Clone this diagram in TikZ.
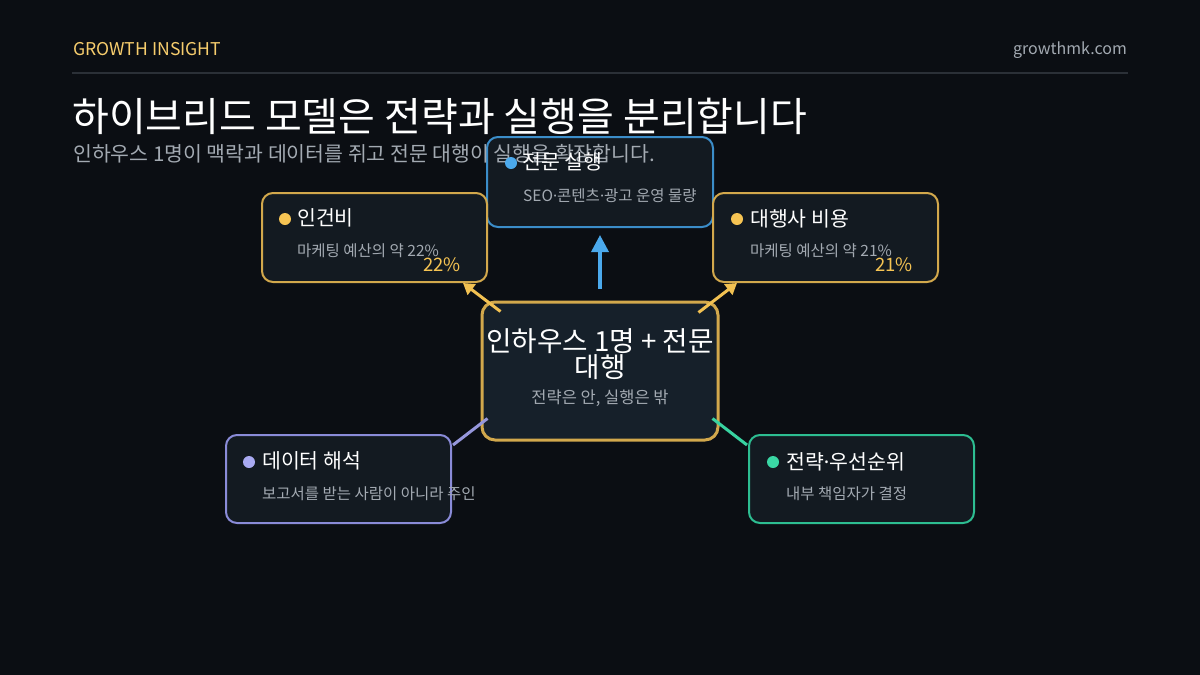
\documentclass[tikz,border=0pt]{standalone}
\usepackage{fontspec}
\setmainfont{Noto Sans CJK KR}
\newfontfamily\dotfont{Noto Sans}
\newcommand{\mdot}{{\dotfont ·}}
\usetikzlibrary{arrows.meta}
\definecolor{bg}{HTML}{0B0E13}
\definecolor{boxfill}{HTML}{131A21}
\definecolor{hubfill}{HTML}{16202A}
\definecolor{gold}{HTML}{D2A84C}
\definecolor{golddot}{HTML}{F6C453}
\definecolor{bluec}{HTML}{3B8DC9}
\definecolor{bluedot}{HTML}{4BA9EC}
\definecolor{purp}{HTML}{8A8BD8}
\definecolor{purpdot}{HTML}{A9AAF2}
\definecolor{grn}{HTML}{2DBD91}
\definecolor{grndot}{HTML}{3AD7A4}
\definecolor{subgray}{HTML}{A3AAB2}
\definecolor{rulegray}{HTML}{2B3037}
\tikzset{
  card/.style={draw=#1, line width=2pt, fill=boxfill, rounded corners=11pt, inner sep=0pt},
  cardtitle/.style={anchor=west, inner sep=0pt, text=white, font=\fontsize{20.5}{24}\selectfont},
  cardsub/.style={anchor=west, inner sep=0pt, text=subgray, font=\fontsize{15.5}{18}\selectfont},
  pct/.style={anchor=east, inner sep=0pt, text=golddot, font=\fontsize{18.5}{22}\selectfont},
  conn/.style={draw=#1, line width=3pt, -{Triangle[length=11pt,width=13pt]}},
}
\begin{document}
\begin{tikzpicture}[x=1pt,y=-1pt]
\fill[bg] (0,0) rectangle (1200,675);
\useasboundingbox (0,0) rectangle (1200,675);
% header
\node[anchor=west, inner sep=0pt, text=golddot!85!white, font=\fontsize{17.6}{20}\selectfont] (brand) at (73,49.5) {GROWTH INSIGHT};
\node[anchor=east, inner sep=0pt, text=subgray, font=\fontsize{16}{19}\selectfont] (site) at (1127,50) {growthmk.com};
\draw[rulegray, line width=2pt] (72,73) -- (1128,73);
\node[anchor=west, inner sep=0pt, text=white, font=\fontsize{40}{46}\selectfont] (title) at (72,116) {하이브리드 모델은 전략과 실행을 분리합니다};

% cards
\node[card=bluec, minimum width=226pt, minimum height=90pt] (exec) at (600,182) {};
\node[card=gold, minimum width=225pt, minimum height=89pt] (labor) at (374.5,237.5) {};
\node[card=gold, minimum width=225pt, minimum height=89pt] (agency) at (825.5,237.5) {};
\node[card=purp, minimum width=225pt, minimum height=88pt] (data) at (338.5,479) {};
\node[card=grn, minimum width=225pt, minimum height=88pt] (strat) at (861.5,479) {};
\node[draw=gold, line width=3pt, fill=hubfill, rounded corners=13pt, minimum width=236pt, minimum height=138pt, inner sep=0pt] (hub) at (600,371) {};

% subtitle (drawn over the top card, as in the original)
\node[anchor=west, inner sep=0pt, text=subgray, font=\fontsize{20.5}{24}\selectfont] (subtitle) at (73,153.5) {인하우스 1명이 맥락과 데이터를 쥐고 전문 대행이 실행을 확장합니다.};

% card contents
\fill[bluedot] (511,163) circle (6pt);
\node[cardtitle] (execT) at (522,162) {전문 실행};
\node[cardsub] (execS) at (523,196) {SEO\mdot 콘텐츠\mdot 광고 운영 물량};

\fill[golddot] (285,219) circle (6pt);
\node[cardtitle] (laborT) at (297,218) {인건비};
\node[cardsub] (laborS) at (297,251) {마케팅 예산의 약 22\%};
\node[pct] (laborP) at (461,265) {22\%};

\fill[golddot] (737,219) circle (6pt);
\node[cardtitle] (agencyT) at (750,218.5) {대행사 비용};
\node[cardsub] (agencyS) at (750,251) {마케팅 예산의 약 21\%};
\node[pct] (agencyP) at (913,265) {21\%};

\fill[purpdot] (249,462) circle (6pt);
\node[cardtitle] (dataT) at (262,461) {데이터 해석};
\node[cardsub] (dataS) at (262,494) {보고서를 받는 사람이 아니라 주인};

\fill[grndot] (773,462) circle (6pt);
\node[cardtitle] (stratT) at (786,461.5) {전략\mdot 우선순위};
\node[cardsub] (stratS) at (786,494) {내부 책임자가 결정};

\node[align=center, inner sep=0pt, text=white, font=\fontsize{27.7}{24}\selectfont] (hubT) at (600,354) {인하우스 1명 + 전문\\대행};
\node[inner sep=0pt, text=subgray, font=\fontsize{16.5}{19}\selectfont] (hubS) at (600,398) {전략은 안, 실행은 밖};

% connectors
\path (hub.north) ++(0,-12) coordinate (hN);
\path (hub.north west) ++(20,11) coordinate (hNW);
\path (hub.north east) ++(-21,12) coordinate (hNE);
\path (hub.south west) ++(7,-23) coordinate (hSW);
\path (hub.south east) ++(-7,-23) coordinate (hSE);
\path (exec.south) ++(0,7) coordinate (eS);
\path (labor.south east) ++(-25,0) coordinate (lSE);
\path (agency.south west) ++(25,0) coordinate (aSW);
\path (data.north east) ++(1,11) coordinate (dNE);
\path (strat.north west) ++(-1,11) coordinate (sNW);
\draw[draw=bluedot, line width=3.5pt, -{Triangle[length=17pt,width=17pt]}] (hN) -- (eS);
\draw[conn=golddot!90!gold] (hNW) -- (lSE);
\draw[conn=golddot!90!gold] (hNE) -- (aSW);
\draw[purp!90!white, line width=3pt] (hSW) -- (dNE);
\draw[grndot!85!grn, line width=3pt] (hSE) -- (sNW);
\end{tikzpicture}
\end{document}
